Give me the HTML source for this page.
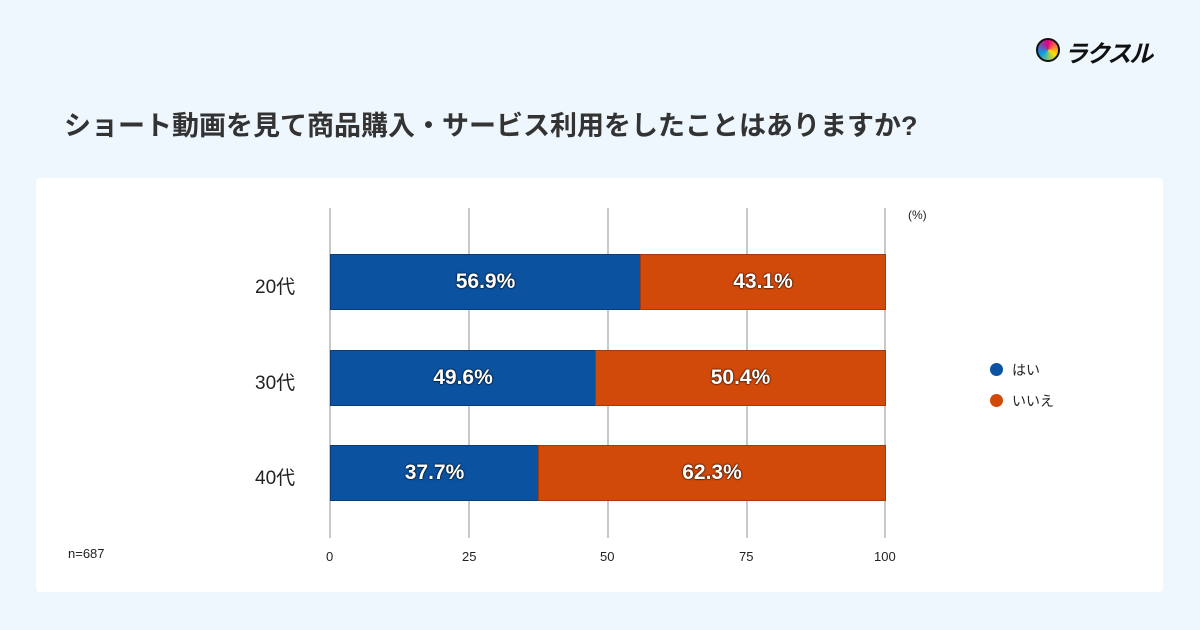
<!DOCTYPE html>
<html><head><meta charset="utf-8"><style>
body{margin:0;width:1200px;height:630px;background:#eef7fd;font-family:"Liberation Sans","Noto Sans CJK JP",sans-serif;position:relative;overflow:hidden}
.a{position:absolute}
.card{left:36px;top:178px;width:1127px;height:414px;background:#fff;border-radius:4px}
.g{top:208px;width:2px;height:330px;background:#c8c8c8}
.b{height:56px;border:1px solid #0a3a7a;box-sizing:border-box;background:#0b52a0;color:#fff;font-weight:bold;font-size:21px;display:flex;align-items:center;justify-content:center;text-shadow:0 0 2px #000,0 0 1px #000}
.o{background:#d24a0a;border-color:#a83808}
.lab{font-size:19px;color:#222;left:255px}
.t{font-size:13px;color:#222;top:549px}
</style></head><body>
<div class="a" style="left:1036px;top:38px;width:24px;height:24px;border-radius:50%;background:conic-gradient(#e6007e,#ffe100,#00a0e9,#e6007e);border:2px solid #111;box-sizing:border-box"></div>
<div class="a" style="left:1064px;top:34px;font-size:24px;font-weight:bold;color:#111;letter-spacing:-2px;font-style:italic">ラクスル</div>
<div class="a" style="left:64px;top:104px;font-size:27px;font-weight:bold;color:#333">ショート動画を見て商品購入・サービス利用をしたことはありますか?</div>
<div class="a card"></div>
<div class="a g" style="left:329px"></div><div class="a g" style="left:468px"></div><div class="a g" style="left:607px"></div><div class="a g" style="left:746px"></div><div class="a g" style="left:884px"></div>
<div class="a" style="left:908px;top:208px;font-size:12px;color:#222">(%)</div>
<div class="a b" style="left:330px;top:254px;width:311px">56.9%</div>
<div class="a b o" style="left:640px;top:254px;width:246px">43.1%</div>
<div class="a b" style="left:330px;top:350px;width:266px">49.6%</div>
<div class="a b o" style="left:595px;top:350px;width:291px">50.4%</div>
<div class="a b" style="left:330px;top:445px;width:209px">37.7%</div>
<div class="a b o" style="left:538px;top:445px;width:348px">62.3%</div>
<div class="a lab" style="top:272px">20代</div>
<div class="a lab" style="top:368px">30代</div>
<div class="a lab" style="top:463px">40代</div>
<div class="a" style="left:990px;top:363px;width:13px;height:13px;border-radius:50%;background:#0b52a0"></div>
<div class="a" style="left:1012px;top:360px;font-size:14px;color:#222">はい</div>
<div class="a" style="left:990px;top:394px;width:13px;height:13px;border-radius:50%;background:#d24a0a"></div>
<div class="a" style="left:1012px;top:391px;font-size:14px;color:#222">いいえ</div>
<div class="a t" style="left:326px">0</div><div class="a t" style="left:462px">25</div><div class="a t" style="left:600px">50</div><div class="a t" style="left:739px">75</div><div class="a t" style="left:874px">100</div>
<div class="a t" style="left:68px;top:546px">n=687</div>
</body></html>
